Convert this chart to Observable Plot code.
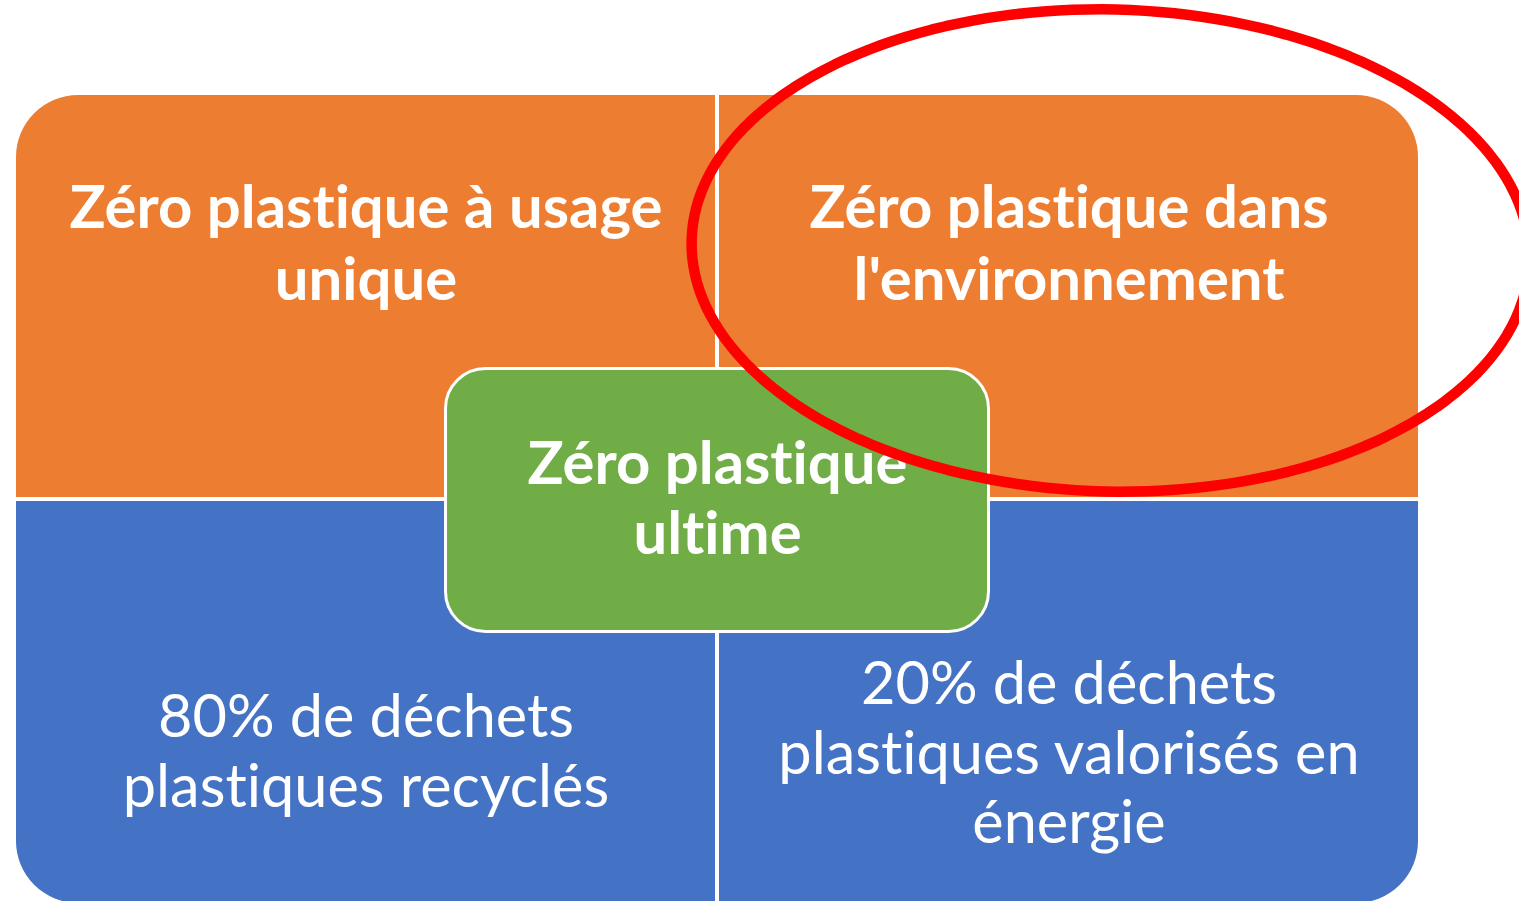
<!DOCTYPE html>
<html><head><meta charset="utf-8">
<script src="https://cdn.jsdelivr.net/npm/d3@7"></script>
<script src="https://cdn.jsdelivr.net/npm/@observablehq/plot@0.6"></script>
<style>html,body{margin:0;padding:0;background:#fff;overflow:hidden}#chart svg{display:block}#chart text{font-variant-ligatures:none;font-feature-settings:"liga" 0,"clig" 0}</style>
</head><body><div id="chart"></div>
<script>
// ---- content ----
const cellNames = ["usage unique", "environnement", "recyclage", "valorisation"];
const cellLines = [
  ["Zéro plastique à usage", "unique"],
  ["Zéro plastique dans", "l'environnement"],
  ["80% de déchets", "plastiques recyclés"],
  ["20% de déchets", "plastiques valorisés en", "énergie"]
];
const cellBold = [true, true, false, false];
const cellColors = ["#ED7D31", "#ED7D31", "#4472C4", "#4472C4"];
const centerLines = ["Zéro plastique", "ultime"];
const centerColor = "#70AD47";
const ringColor = "#FF0000";

// ---- layout ----
const W = 1519, H = 901;
const colX = [[16, 715], [719, 1418]];
const rowY = [[95, 497], [501, 903]];
const R = 62;
const cellBaselines = [[227, 299], [227, 299], [736, 806], [703, 773, 842]];
const centerBox = {x1: 445.5, x2: 988.5, y1: 368.5, y2: 631.5, r: 40};
const centerBaselines = [483, 553];
const ring = {cx: 1110, cy: 250, rx: 419, ry: 241, angle: 1.4};

const cells = cellNames.map((name, i) => {
  const c = i % 2, r = Math.floor(i / 2);
  return {name, c, r, x1: colX[c][0], x2: colX[c][1], y1: rowY[r][0], y2: rowY[r][1], fill: cellColors[i]};
});
const squares = cells.flatMap(d => [
  {...d, x1: d.c === 0 ? d.x1 + R : d.x1, x2: d.c === 0 ? d.x2 : d.x2 - R},
  {...d, y1: d.r === 0 ? d.y1 + R : d.y1, y2: d.r === 0 ? d.y2 : d.y2 - R}
]);

const texts = cells.flatMap((d, i) => cellLines[i].map((t, j) => ({
  text: t, x: (d.x1 + d.x2) / 2, y: cellBaselines[i][j], bold: cellBold[i]
}))).concat(centerLines.map((t, j) => ({
  text: t, x: (centerBox.x1 + centerBox.x2) / 2, y: centerBaselines[j], bold: true
})));

const ctx = document.createElement("canvas").getContext("2d");
function fit(text, weight, target) { ctx.font = `${weight} 100px Lato`; return 100 * target / ctx.measureText(text).width; }
const boldSize = fit("Zéro plastique à usage", "bold", 594);
const regSize = fit("plastiques valorisés en", "normal", 584);

const a = ring.angle * Math.PI / 180;
const ringPts = d3.range(0, 361, 2).map(deg => {
  const t = deg * Math.PI / 180;
  const ex = ring.rx * Math.cos(t), ey = ring.ry * Math.sin(t);
  return {x: ring.cx + ex * Math.cos(a) - ey * Math.sin(a), y: ring.cy + ex * Math.sin(a) + ey * Math.cos(a)};
});

const chart = Plot.plot({
  width: W, height: H, margin: 0,
  x: {domain: [0, W], range: [0, W], axis: null},
  y: {domain: [0, H], range: [0, H], axis: null},
  style: {background: "white", overflow: "hidden"},
  marks: [
    Plot.rect(cells, {x1: "x1", x2: "x2", y1: "y1", y2: "y2", fill: "fill", rx: R}),
    Plot.rect(squares, {x1: "x1", x2: "x2", y1: "y1", y2: "y2", fill: "fill"}),
    Plot.rect([centerBox], {x1: "x1", x2: "x2", y1: "y1", y2: "y2", fill: centerColor, stroke: "white", strokeWidth: 3, rx: centerBox.r}),
    Plot.text(texts.filter(d => d.bold), {x: "x", y: "y", text: "text", fill: "white", fontSize: boldSize, fontWeight: "bold", fontFamily: "Lato", lineAnchor: "bottom", textAnchor: "middle"}),
    Plot.text(texts.filter(d => !d.bold), {x: "x", y: "y", text: "text", fill: "white", fontSize: regSize, fontWeight: "normal", fontFamily: "Lato", lineAnchor: "bottom", textAnchor: "middle"}),
    Plot.line(ringPts, {x: "x", y: "y", stroke: ringColor, strokeWidth: 10.5, curve: "linear-closed"})
  ]
});
document.getElementById("chart").appendChild(chart);
</script>
</body></html>
